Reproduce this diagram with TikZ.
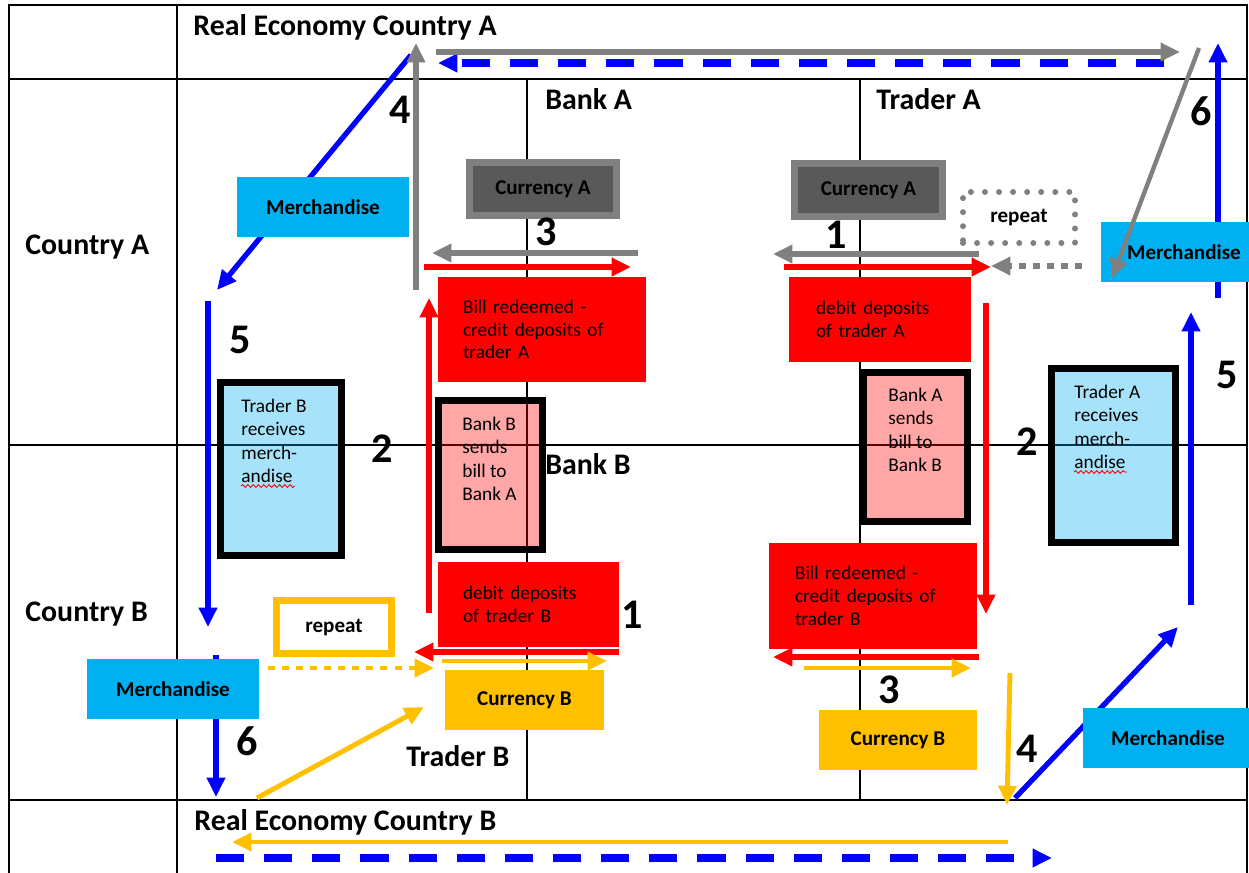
\documentclass[tikz,border=0pt]{standalone}
\usepackage{fontspec}
\setmainfont{Carlito}
\usetikzlibrary{arrows.meta,decorations.pathmorphing}
\newlength\pix
\setlength\pix{0.02cm}
\definecolor{merchblue}{HTML}{00B0F0}
\definecolor{flowgray}{HTML}{808080}
\definecolor{darkcur}{HTML}{595959}
\definecolor{curgold}{HTML}{FFC000}
\definecolor{flowblue}{HTML}{0000FF}
\tikzset{tabline/.style={draw=black, line width=0.6pt},
  wh/.style 2 args={minimum width=#1\pix, minimum height=#2\pix},
  lbl/.style={font=\fontsize{12}{14}\selectfont\bfseries, inner sep=0pt},
  merch/.style={lbl, fill=merchblue},
  curA/.style={lbl, fill=darkcur, draw=flowgray, line width=4pt},
  curB/.style={lbl, fill=curgold},
  redbox/.style={fill=red, align=left, font=\fontsize{11}{13}\selectfont, inner ysep=0pt, inner xsep=25\pix},
  sendbox/.style={draw=black, line width=4pt, fill=red, fill opacity=0.35},
  recvbox/.style={draw=black, line width=4pt, fill=merchblue, fill opacity=0.35},
  bodytext/.style={anchor=north west, align=left, inner sep=0pt, font=\fontsize{11}{13.3}\selectfont},
  head/.style={anchor=base west, inner sep=0pt, font=\fontsize{17}{20}\selectfont\bfseries},
  num/.style={anchor=base west, inner sep=0pt, font=\fontsize{24}{28}\selectfont\bfseries},
  tip/.style={-{Triangle[length=11pt,width=10pt]}},
  grayarr/.style={tip, draw=flowgray, line width=3.6pt},
  redarr/.style={tip, draw=red, line width=3.6pt},
  bluearr/.style={tip, draw=flowblue, line width=3pt},
  goldarr/.style={tip, draw=curgold, line width=2.8pt},
  squiggle/.style={draw=red, line width=0.5pt, decorate, decoration={snake, amplitude=0.8pt, segment length=3pt}}}
\begin{document}
\begin{tikzpicture}[x=0.02cm, y=-0.02cm]
\useasboundingbox (0,0) rectangle (1249,873);
% table
\draw[tabline] (9,873) -- (9,5) -- (1247,5) -- (1247,873);
\draw[tabline] (9,79) -- (1247,79) (9,445) -- (1247,445) (9,800) -- (1247,800);
\draw[tabline] (177,5) -- (177,873) (527,79) -- (527,800) (860,79) -- (860,800);

% merchandise flow
\coordinate (bdAs) at (1164,63); \coordinate (bdAe) at (438,63);
\coordinate (b4s) at (411,55); \coordinate (b4e) at (217,290);
\coordinate (b5s) at (208,301); \coordinate (b5e) at (208,627);
\coordinate (b6s) at (216,655); \coordinate (b6e) at (216,797);
\coordinate (bdBs) at (216,858); \coordinate (bdBe) at (1052,858);
\coordinate (b4rs) at (1015,798); \coordinate (b4re) at (1178,627);
\coordinate (b5rs) at (1191,605); \coordinate (b5re) at (1191,312);
\coordinate (b6rs) at (1218,298); \coordinate (b6re) at (1218,43);
\draw[bluearr, line width=4pt, dash pattern=on 16pt off 11.4pt] (bdAs) -- (bdAe);
\draw[bluearr, line width=4pt, dash pattern=on 16pt off 11.4pt] (bdBs) -- (bdBe);
\draw[bluearr] (b4s) -- (b4e);
\draw[bluearr] (b5s) -- (b5e);
\draw[bluearr] (b6s) -- (b6e);
\draw[bluearr] (b4rs) -- (b4re);
\draw[bluearr] (b5rs) -- (b5re);
\draw[bluearr] (b6rs) -- (b6re);

% boxes
\node[merch, wh={172}{60}] (merchTL) at (323,207) {Merchandise};
\node[merch, wh={166}{60}] (merchTR) at (1184,252) {Merchandise};
\node[merch, wh={172}{60}] (merchBL) at (173,689) {Merchandise};
\node[merch, wh={170}{60}] (merchBR) at (1168,738) {Merchandise};
\node[curA, wh={147}{53}] (curAL) at (543,189) {Currency A};
\node[curA, wh={148}{53}] (curAR) at (868.5,190) {Currency A};
\node[curB, wh={159}{60}] (curBL) at (524.5,700) {Currency B};
\node[curB, wh={158}{60}] (curBR) at (898,740) {Currency B};
\node[redbox, wh={208}{105}, text width=158\pix] (billA) at (542,329.5) {Bill redeemed -\\credit deposits of\\trader A};
\node[redbox, wh={182}{85}, inner xsep=27\pix, text width=128\pix] (debA) at (880,319.5) {debit deposits\\of trader A};
\node[redbox, wh={181}{85}, text width=131\pix] (debB) at (528.5,604.5) {debit deposits\\of trader B};
\node[redbox, wh={208}{106}, inner xsep=26\pix, text width=156\pix] (billB) at (873,596) {Bill redeemed -\\credit deposits of\\trader B};
\node[sendbox, wh={104}{149}] (sendB) at (490.5,475) {};
\node[bodytext] (sendBtxt) at (462,416.5) {Bank B\\sends\\bill to\\Bank A};
\node[sendbox, wh={104}{149}] (sendA) at (915.5,447) {};
\node[bodytext] (sendAtxt) at (888,387.5) {Bank A\\sends\\bill to\\Bank B};
\node[recvbox, wh={121}{173}] (recvB) at (281,469) {};
\node[bodytext] (recvBtxt) at (241,398.5) {Trader B\\receives\\merch-\\andise};
\node[recvbox, wh={124}{174}] (recvA) at (1113.5,455.5) {};
\node[bodytext] (recvAtxt) at (1074,384.5) {Trader A\\receives\\merch-\\andise};
\draw[squiggle] (241,486) -- (295,486);
\draw[squiggle] (1074,472) -- (1127,472);
\node[lbl, draw=flowgray, line width=3.4pt, dash pattern=on 0pt off 8pt, line cap=round, wh={112}{51}] (repA) at (1019,217.5) {repeat};
\node[lbl, draw=curgold, line width=4pt, wh={115}{53}] (repB) at (334,627) {repeat};

% money flow
\coordinate (g4s) at (416,290); \coordinate (g4e) at (416,43);
\coordinate (gts) at (436,52); \coordinate (gte) at (1180,52);
\coordinate (g6s) at (1199,48); \coordinate (g6e) at (1112,278);
\coordinate (g3s) at (638,253); \coordinate (g3e) at (432,253);
\coordinate (g1s) at (979,254); \coordinate (g1e) at (773,254);
\coordinate (grs) at (1082,266); \coordinate (gre) at (991,266);
\draw[grayarr] (g4s) -- (g4e);
\draw[grayarr] (gts) -- (gte);
\draw[grayarr, line width=2.5pt] (g6s) -- (g6e);
\draw[grayarr] (g3s) -- (g3e);
\draw[grayarr] (g1s) -- (g1e);
\draw[grayarr, dash pattern=on 4pt off 4pt] (grs) -- (gre);

\coordinate (r3s) at (424,267); \coordinate (r3e) at (631,267);
\coordinate (r2s) at (429,613); \coordinate (r2e) at (429,298);
\coordinate (r1s) at (619,652); \coordinate (r1e) at (414,652);
\coordinate (r1rs) at (784,267); \coordinate (r1re) at (991,267);
\coordinate (r2rs) at (986,303); \coordinate (r2re) at (986,614);
\coordinate (r3rs) at (979,657); \coordinate (r3re) at (773,657);
\draw[redarr] (r3s) -- (r3e);
\draw[redarr] (r2s) -- (r2e);
\draw[redarr] (r1s) -- (r1e);
\draw[redarr] (r1rs) -- (r1re);
\draw[redarr] (r2rs) -- (r2re);
\draw[redarr] (r3rs) -- (r3re);

\coordinate (o1s) at (442,661); \coordinate (o1e) at (607,661);
\coordinate (ors) at (268,668); \coordinate (ore) at (434,668);
\coordinate (o4s) at (257,798); \coordinate (o4e) at (424,707);
\coordinate (o3s) at (804,668); \coordinate (o3e) at (971,668);
\coordinate (o4rs) at (1010,673); \coordinate (o4re) at (1007,805);
\coordinate (obs) at (1008,842); \coordinate (obe) at (232,842);
\draw[goldarr] (o1s) -- (o1e);
\draw[goldarr, dash pattern=on 4pt off 4pt] (ors) -- (ore);
\draw[goldarr] (o4s) -- (o4e);
\draw[goldarr] (o3s) -- (o3e);
\draw[goldarr] (o4rs) -- (o4re);
\draw[goldarr] (obs) -- (obe);

% headings
\node[head] (realA) at (193,35) {Real Economy Country A};
\node[head] (realB) at (194,830) {Real Economy Country B};
\node[head] (ctryA) at (25,254) {Country A};
\node[head] (ctryB) at (25,621) {Country B};
\node[head] (bankA) at (545,109) {Bank A};
\node[head] (bankB) at (545,474) {Bank B};
\node[head] (tradA) at (876,109) {Trader A};
\node[head] (tradB) at (406,766) {Trader B};

% step numbers
\node[num] (n4A) at (389,123) {4};
\node[num] (n3A) at (535,245) {3};
\node[num] (n1A) at (825,248) {1};
\node[num] (n6A) at (1190,125) {6};
\node[num] (n5B) at (229,353) {5};
\node[num] (n2B) at (371,462) {2};
\node[num] (n2A) at (1016,455) {2};
\node[num] (n5A) at (1216,388) {5};
\node[num] (n1B) at (621,628) {1};
\node[num] (n3B) at (878,703) {3};
\node[num] (n4B) at (1016,762) {4};
\node[num] (n6B) at (236,755) {6};
\end{tikzpicture}
\end{document}
